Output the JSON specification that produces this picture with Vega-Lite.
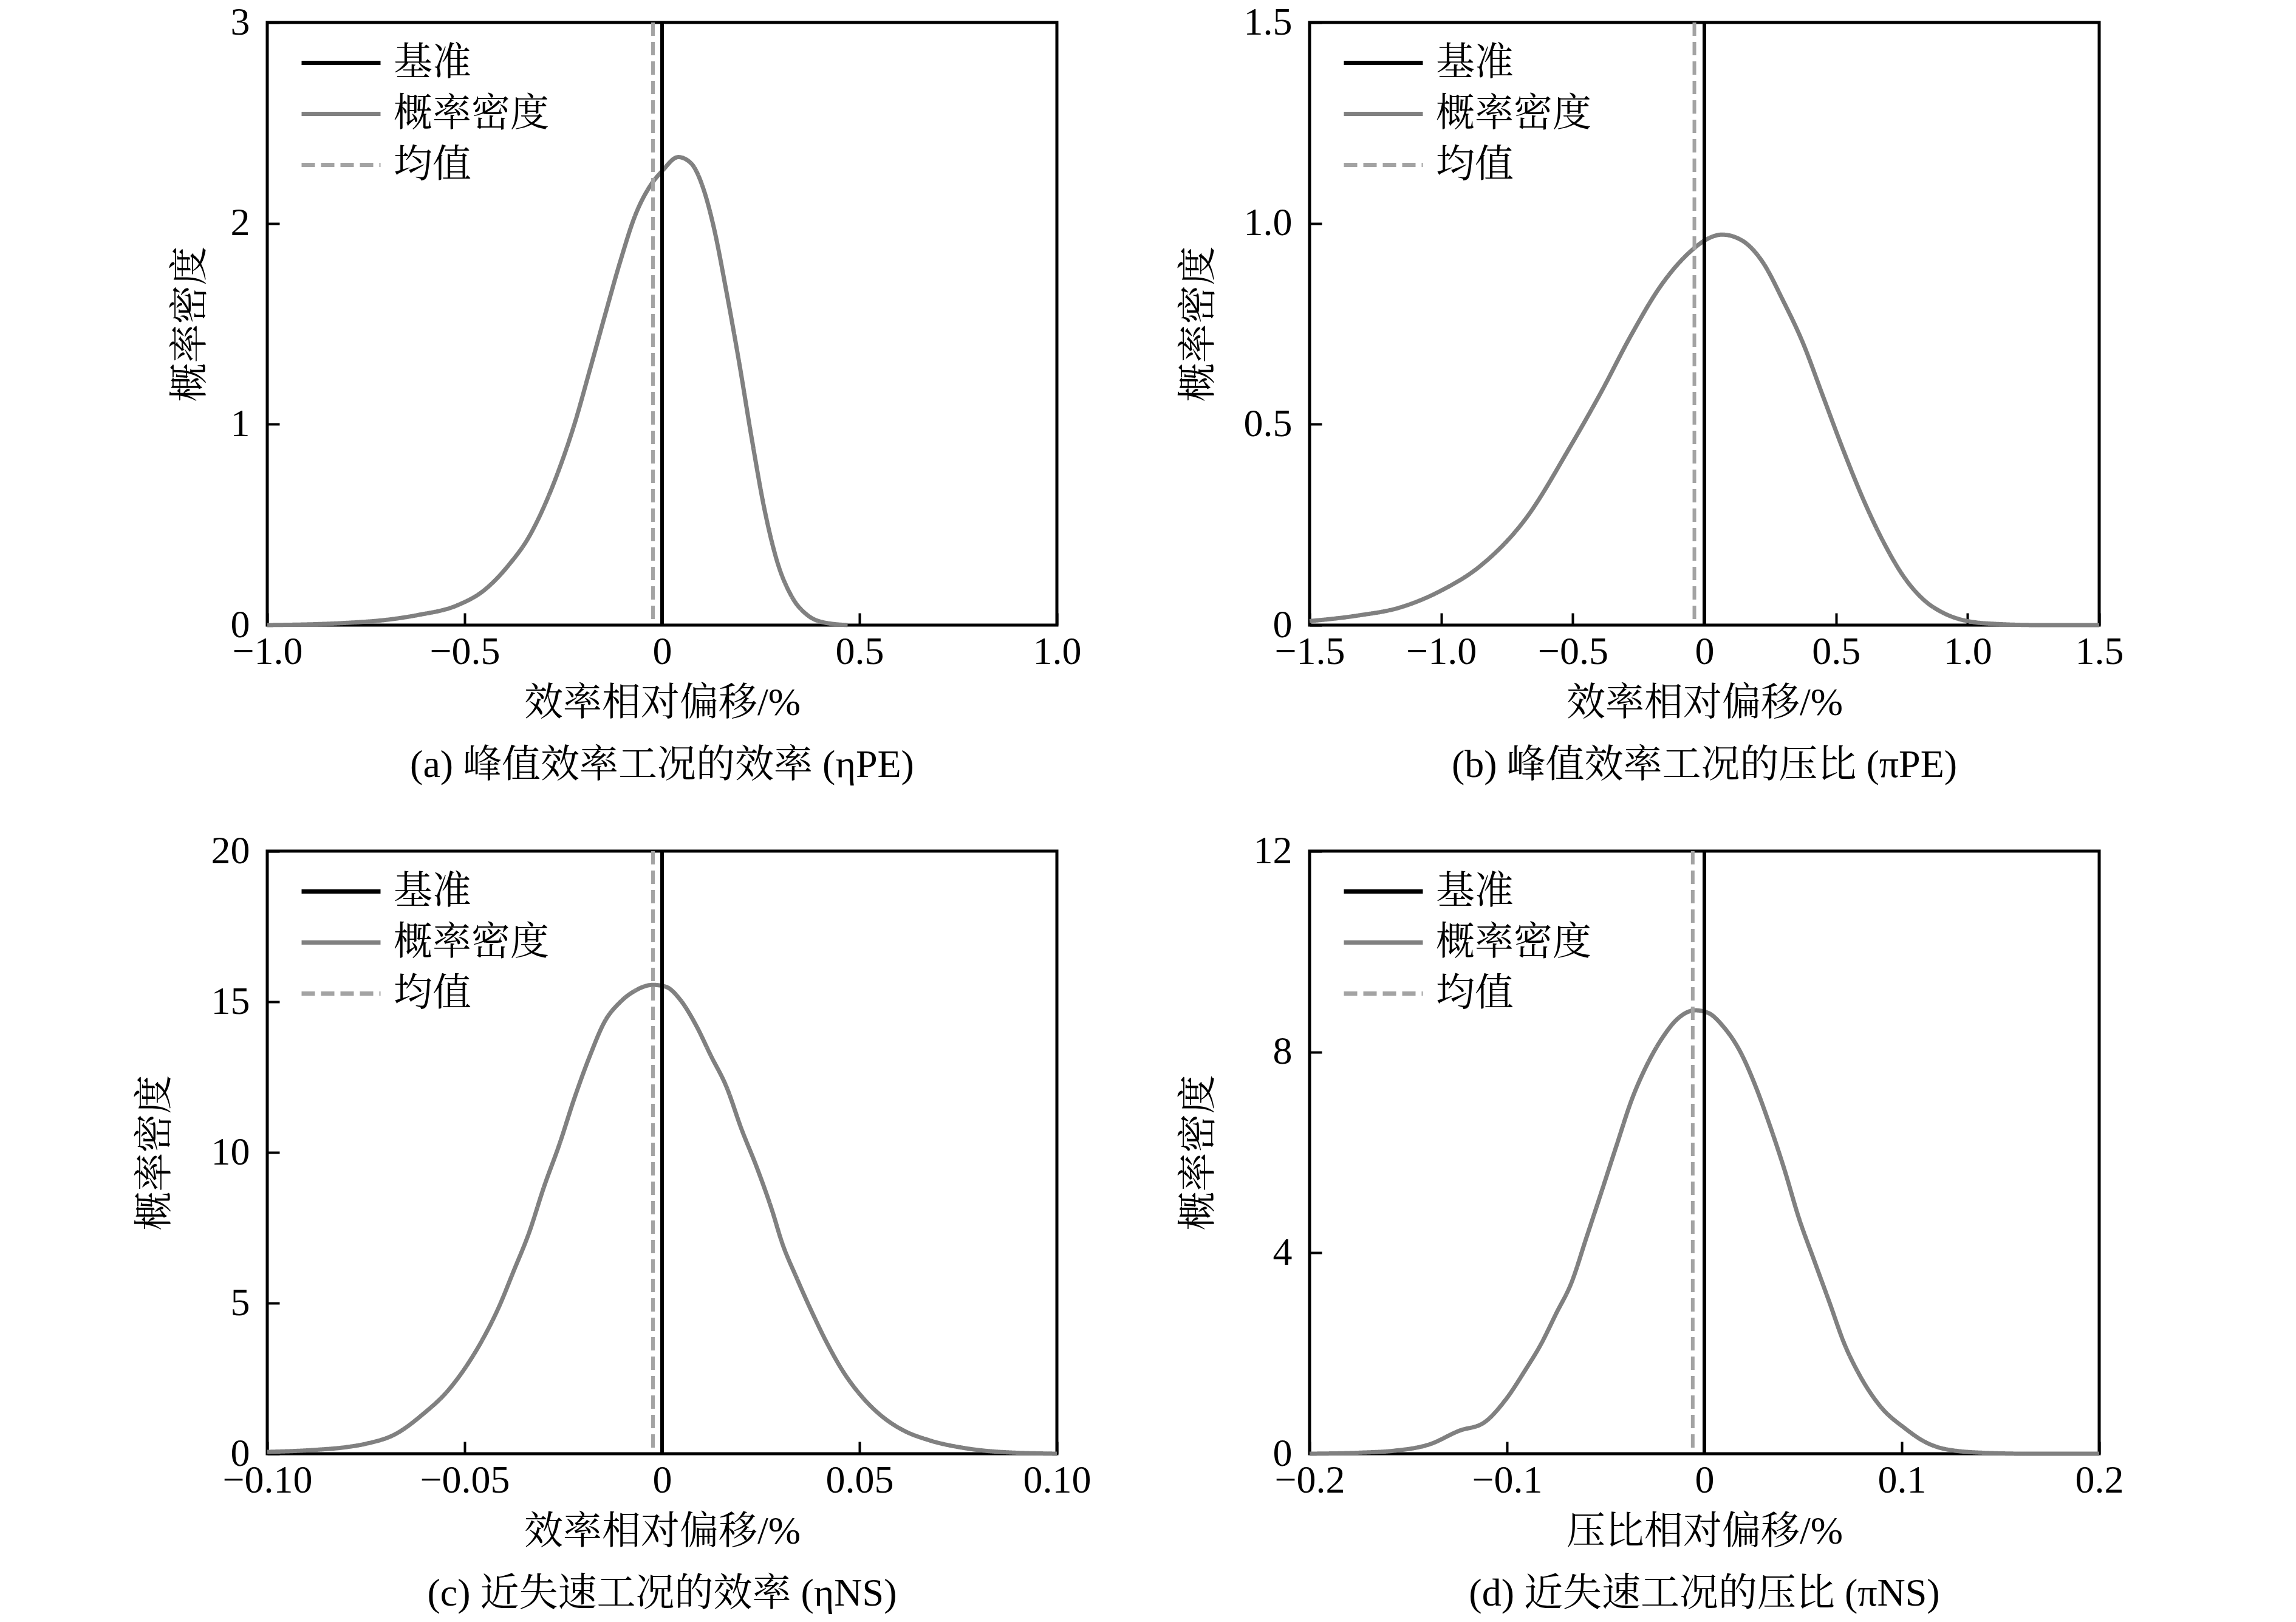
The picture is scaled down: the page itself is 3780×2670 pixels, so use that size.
{
  "$schema": "https://vega.github.io/schema/vega-lite/v6.json",
  "background": "white",
  "padding": {"left": 220, "top": 2, "right": 0, "bottom": 0},
  "columns": 2,
  "bounds": "flush",
  "spacing": {"column": 416, "row": 372},
  "datasets": {
    "a": [
      {"x": -1.0, "y": 0.0}, {"x": -0.81, "y": 0.01}, {"x": -0.683, "y": 0.03}, {"x": -0.619, "y": 0.05},
      {"x": -0.517, "y": 0.1}, {"x": -0.453, "y": 0.17}, {"x": -0.388, "y": 0.3}, {"x": -0.337, "y": 0.44},
      {"x": -0.299, "y": 0.59}, {"x": -0.26, "y": 0.78}, {"x": -0.222, "y": 1.0}, {"x": -0.183, "y": 1.27},
      {"x": -0.145, "y": 1.54}, {"x": -0.106, "y": 1.81}, {"x": -0.068, "y": 2.04}, {"x": -0.029, "y": 2.19},
      {"x": 0.0, "y": 2.26}, {"x": 0.041, "y": 2.33}, {"x": 0.073, "y": 2.3}, {"x": 0.105, "y": 2.17},
      {"x": 0.131, "y": 1.98}, {"x": 0.163, "y": 1.66}, {"x": 0.195, "y": 1.31}, {"x": 0.227, "y": 0.93},
      {"x": 0.259, "y": 0.58}, {"x": 0.291, "y": 0.32}, {"x": 0.329, "y": 0.14}, {"x": 0.368, "y": 0.05},
      {"x": 0.406, "y": 0.015}, {"x": 0.47, "y": 0.0}
    ],
    "b": [
      {"x": -1.5, "y": 0.01}, {"x": -1.315, "y": 0.024}, {"x": -1.161, "y": 0.043}, {"x": -1.0, "y": 0.086},
      {"x": -0.85, "y": 0.148}, {"x": -0.681, "y": 0.263}, {"x": -0.509, "y": 0.445}, {"x": -0.393, "y": 0.579},
      {"x": -0.278, "y": 0.722}, {"x": -0.163, "y": 0.847}, {"x": -0.048, "y": 0.933}, {"x": 0.0, "y": 0.957},
      {"x": 0.067, "y": 0.972}, {"x": 0.144, "y": 0.957}, {"x": 0.221, "y": 0.904}, {"x": 0.298, "y": 0.809},
      {"x": 0.374, "y": 0.703}, {"x": 0.451, "y": 0.569}, {"x": 0.528, "y": 0.435}, {"x": 0.605, "y": 0.311},
      {"x": 0.681, "y": 0.206}, {"x": 0.758, "y": 0.12}, {"x": 0.835, "y": 0.062}, {"x": 0.912, "y": 0.029},
      {"x": 1.0, "y": 0.01}, {"x": 1.104, "y": 0.003}, {"x": 1.276, "y": 0.0}, {"x": 1.5, "y": 0.0}
    ],
    "c": [
      {"x": -0.1, "y": 0.06}, {"x": -0.0876, "y": 0.13}, {"x": -0.0799, "y": 0.22}, {"x": -0.0747, "y": 0.34},
      {"x": -0.0677, "y": 0.64}, {"x": -0.0606, "y": 1.31}, {"x": -0.0542, "y": 2.1}, {"x": -0.0491, "y": 3.0},
      {"x": -0.0453, "y": 3.83}, {"x": -0.0414, "y": 4.85}, {"x": -0.0376, "y": 6.06}, {"x": -0.0337, "y": 7.33},
      {"x": -0.0299, "y": 8.86}, {"x": -0.026, "y": 10.27}, {"x": -0.0222, "y": 11.8}, {"x": -0.0183, "y": 13.2},
      {"x": -0.0145, "y": 14.35}, {"x": -0.0106, "y": 14.99}, {"x": -0.0068, "y": 15.37}, {"x": -0.0023, "y": 15.56},
      {"x": 0.0009, "y": 15.5}, {"x": 0.0047, "y": 15.05}, {"x": 0.0086, "y": 14.22}, {"x": 0.0124, "y": 13.2},
      {"x": 0.0163, "y": 12.18}, {"x": 0.0201, "y": 10.78}, {"x": 0.024, "y": 9.5}, {"x": 0.0278, "y": 8.1},
      {"x": 0.0304, "y": 7.0}, {"x": 0.0342, "y": 5.8}, {"x": 0.0381, "y": 4.66}, {"x": 0.0419, "y": 3.64},
      {"x": 0.0458, "y": 2.74}, {"x": 0.0509, "y": 1.85}, {"x": 0.056, "y": 1.21}, {"x": 0.0612, "y": 0.77},
      {"x": 0.0676, "y": 0.45}, {"x": 0.0765, "y": 0.19}, {"x": 0.0855, "y": 0.06}, {"x": 0.1, "y": 0.0}
    ],
    "d": [
      {"x": -0.2, "y": 0.0}, {"x": -0.175, "y": 0.02}, {"x": -0.157, "y": 0.06}, {"x": -0.139, "y": 0.19},
      {"x": -0.124, "y": 0.46}, {"x": -0.112, "y": 0.61}, {"x": -0.1008, "y": 1.07}, {"x": -0.0905, "y": 1.68},
      {"x": -0.0828, "y": 2.18}, {"x": -0.0751, "y": 2.79}, {"x": -0.0674, "y": 3.4}, {"x": -0.0597, "y": 4.31},
      {"x": -0.052, "y": 5.23}, {"x": -0.0444, "y": 6.15}, {"x": -0.0367, "y": 7.06}, {"x": -0.029, "y": 7.75},
      {"x": -0.0213, "y": 8.28}, {"x": -0.0136, "y": 8.66}, {"x": -0.0046, "y": 8.83}, {"x": 0.0018, "y": 8.78},
      {"x": 0.0095, "y": 8.51}, {"x": 0.0185, "y": 7.98}, {"x": 0.0262, "y": 7.29}, {"x": 0.0326, "y": 6.6},
      {"x": 0.0403, "y": 5.69}, {"x": 0.0479, "y": 4.69}, {"x": 0.0556, "y": 3.85}, {"x": 0.0633, "y": 3.02},
      {"x": 0.071, "y": 2.18}, {"x": 0.0787, "y": 1.56}, {"x": 0.089, "y": 0.95}, {"x": 0.1018, "y": 0.5},
      {"x": 0.112, "y": 0.23}, {"x": 0.1223, "y": 0.09}, {"x": 0.1403, "y": 0.02}, {"x": 0.163, "y": 0.0},
      {"x": 0.2, "y": 0.0}
    ],
    "ra": [{"x": 0, "s": "基准"}, {"x": -0.023, "s": "均值"}],
    "rb": [{"x": 0, "s": "基准"}, {"x": -0.038, "s": "均值"}],
    "rc": [{"x": 0, "s": "基准"}, {"x": -0.0023, "s": "均值"}],
    "rd": [{"x": 0, "s": "基准"}, {"x": -0.0059, "s": "均值"}]
  },
  "concat": [
    {
      "width": 1300, "height": 992,
      "title": {"text": "(a) 峰值效率工况的效率 (ηPE)"},
      "layer": [
        {
          "data": {"name": "a"},
          "mark": {"type": "line", "strokeWidth": 7, "interpolate": "monotone"},
          "encoding": {
            "x": {"field": "x", "type": "quantitative", "scale": {"domain": [-1, 1], "nice": false},
                  "axis": {"values": [-1, -0.5, 0, 0.5, 1], "title": "效率相对偏移/%", "labelExpr": "datum.value === 0 ? '0' : format(datum.value, '.1f')"}},
            "y": {"field": "y", "type": "quantitative", "scale": {"domain": [0, 3], "nice": false},
                  "axis": {"values": [0, 1, 2, 3], "title": "概率密度", "format": "d", "titlePadding": 34}},
            "color": {"datum": "概率密度", "scale": {"domain": ["基准", "概率密度", "均值"], "range": ["#000000", "#808080", "#a3a3a3"]}, "title": null},
            "strokeDash": {"datum": "概率密度", "scale": {"domain": ["基准", "概率密度", "均值"], "range": [[1, 0], [1, 0], [22, 10]]}, "title": null}
          }
        },
        {
          "data": {"name": "ra"},
          "mark": {"type": "rule", "strokeWidth": 6},
          "encoding": {
            "x": {"field": "x", "type": "quantitative"},
            "color": {"field": "s", "type": "nominal", "title": null},
            "strokeDash": {"field": "s", "type": "nominal", "title": null}
          }
        }
      ]
    },
    {
      "width": 1300, "height": 992,
      "title": {"text": "(b) 峰值效率工况的压比 (πPE)"},
      "layer": [
        {
          "data": {"name": "b"},
          "mark": {"type": "line", "strokeWidth": 7, "interpolate": "monotone"},
          "encoding": {
            "x": {"field": "x", "type": "quantitative", "scale": {"domain": [-1.5, 1.5], "nice": false},
                  "axis": {"values": [-1.5, -1, -0.5, 0, 0.5, 1, 1.5], "title": "效率相对偏移/%", "labelExpr": "datum.value === 0 ? '0' : format(datum.value, '.1f')"}},
            "y": {"field": "y", "type": "quantitative", "scale": {"domain": [0, 1.5], "nice": false},
                  "axis": {"values": [0, 0.5, 1, 1.5], "title": "概率密度", "labelExpr": "datum.value === 0 ? '0' : format(datum.value, '.1f')", "titlePadding": 42}},
            "color": {"datum": "概率密度", "scale": {"domain": ["基准", "概率密度", "均值"], "range": ["#000000", "#808080", "#a3a3a3"]}, "title": null},
            "strokeDash": {"datum": "概率密度", "scale": {"domain": ["基准", "概率密度", "均值"], "range": [[1, 0], [1, 0], [22, 10]]}, "title": null}
          }
        },
        {
          "data": {"name": "rb"},
          "mark": {"type": "rule", "strokeWidth": 6},
          "encoding": {
            "x": {"field": "x", "type": "quantitative"},
            "color": {"field": "s", "type": "nominal", "title": null},
            "strokeDash": {"field": "s", "type": "nominal", "title": null}
          }
        }
      ]
    },
    {
      "width": 1300, "height": 992,
      "title": {"text": "(c) 近失速工况的效率 (ηNS)"},
      "layer": [
        {
          "data": {"name": "c"},
          "mark": {"type": "line", "strokeWidth": 7, "interpolate": "monotone"},
          "encoding": {
            "x": {"field": "x", "type": "quantitative", "scale": {"domain": [-0.1, 0.1], "nice": false},
                  "axis": {"values": [-0.1, -0.05, 0, 0.05, 0.1], "title": "效率相对偏移/%", "labelExpr": "datum.value === 0 ? '0' : format(datum.value, '.2f')"}},
            "y": {"field": "y", "type": "quantitative", "scale": {"domain": [0, 20], "nice": false},
                  "axis": {"values": [0, 5, 10, 15, 20], "title": "概率密度", "format": "d", "titlePadding": 60}},
            "color": {"datum": "概率密度", "scale": {"domain": ["基准", "概率密度", "均值"], "range": ["#000000", "#808080", "#a3a3a3"]}, "title": null},
            "strokeDash": {"datum": "概率密度", "scale": {"domain": ["基准", "概率密度", "均值"], "range": [[1, 0], [1, 0], [22, 10]]}, "title": null}
          }
        },
        {
          "data": {"name": "rc"},
          "mark": {"type": "rule", "strokeWidth": 6},
          "encoding": {
            "x": {"field": "x", "type": "quantitative"},
            "color": {"field": "s", "type": "nominal", "title": null},
            "strokeDash": {"field": "s", "type": "nominal", "title": null}
          }
        }
      ]
    },
    {
      "width": 1300, "height": 992,
      "title": {"text": "(d) 近失速工况的压比 (πNS)"},
      "layer": [
        {
          "data": {"name": "d"},
          "mark": {"type": "line", "strokeWidth": 7, "interpolate": "monotone"},
          "encoding": {
            "x": {"field": "x", "type": "quantitative", "scale": {"domain": [-0.2, 0.2], "nice": false},
                  "axis": {"values": [-0.2, -0.1, 0, 0.1, 0.2], "title": "压比相对偏移/%", "labelExpr": "datum.value === 0 ? '0' : format(datum.value, '.1f')"}},
            "y": {"field": "y", "type": "quantitative", "scale": {"domain": [0, 12], "nice": false},
                  "axis": {"values": [0, 4, 8, 12], "title": "概率密度", "format": "d", "titlePadding": 58}},
            "color": {"datum": "概率密度", "scale": {"domain": ["基准", "概率密度", "均值"], "range": ["#000000", "#808080", "#a3a3a3"]}, "title": null},
            "strokeDash": {"datum": "概率密度", "scale": {"domain": ["基准", "概率密度", "均值"], "range": [[1, 0], [1, 0], [22, 10]]}, "title": null}
          }
        },
        {
          "data": {"name": "rd"},
          "mark": {"type": "rule", "strokeWidth": 6},
          "encoding": {
            "x": {"field": "x", "type": "quantitative"},
            "color": {"field": "s", "type": "nominal", "title": null},
            "strokeDash": {"field": "s", "type": "nominal", "title": null}
          }
        }
      ]
    }
  ],
  "resolve": {
    "scale": {"x": "independent", "y": "independent", "color": "independent", "strokeDash": "independent"},
    "legend": {"color": "independent", "strokeDash": "independent"}
  },
  "config": {
    "font": "Liberation Serif, Noto Serif CJK SC, Noto Sans CJK SC",
    "view": {"stroke": "#000000", "strokeWidth": 5},
    "axis": {
      "domain": false,
      "grid": false,
      "ticks": true,
      "tickSize": -20,
      "tickWidth": 4,
      "tickColor": "#000000",
      "labelFont": "Liberation Serif, Noto Serif CJK SC, Noto Sans CJK SC",
      "labelFontSize": 64,
      "labelColor": "#000000",
      "labelFlush": false,
      "labelOverlap": false,
      "titleFont": "Liberation Serif, Noto Serif CJK SC, Noto Sans CJK SC",
      "titleFontSize": 64,
      "titleFontWeight": "normal",
      "titleColor": "#000000"
    },
    "axisX": {"labelPadding": 32, "titlePadding": 20},
    "axisY": {"labelPadding": 49},
    "legend": {
      "orient": "none",
      "legendX": 70,
      "legendY": 15,
      "padding": 0,
      "symbolType": "M-1.354,0H1.354",
      "symbolSize": 9216,
      "symbolStrokeWidth": 7,
      "labelFont": "Liberation Serif, Noto Serif CJK SC, Noto Sans CJK SC",
      "labelFontSize": 64,
      "labelColor": "#000000",
      "labelLimit": 0,
      "labelOffset": 35,
      "rowPadding": 0
    },
    "title": {
      "orient": "bottom",
      "anchor": "middle",
      "font": "Liberation Serif, Noto Serif CJK SC, Noto Sans CJK SC",
      "fontSize": 64,
      "fontWeight": "normal",
      "color": "#000000",
      "offset": 39
    }
  }
}
